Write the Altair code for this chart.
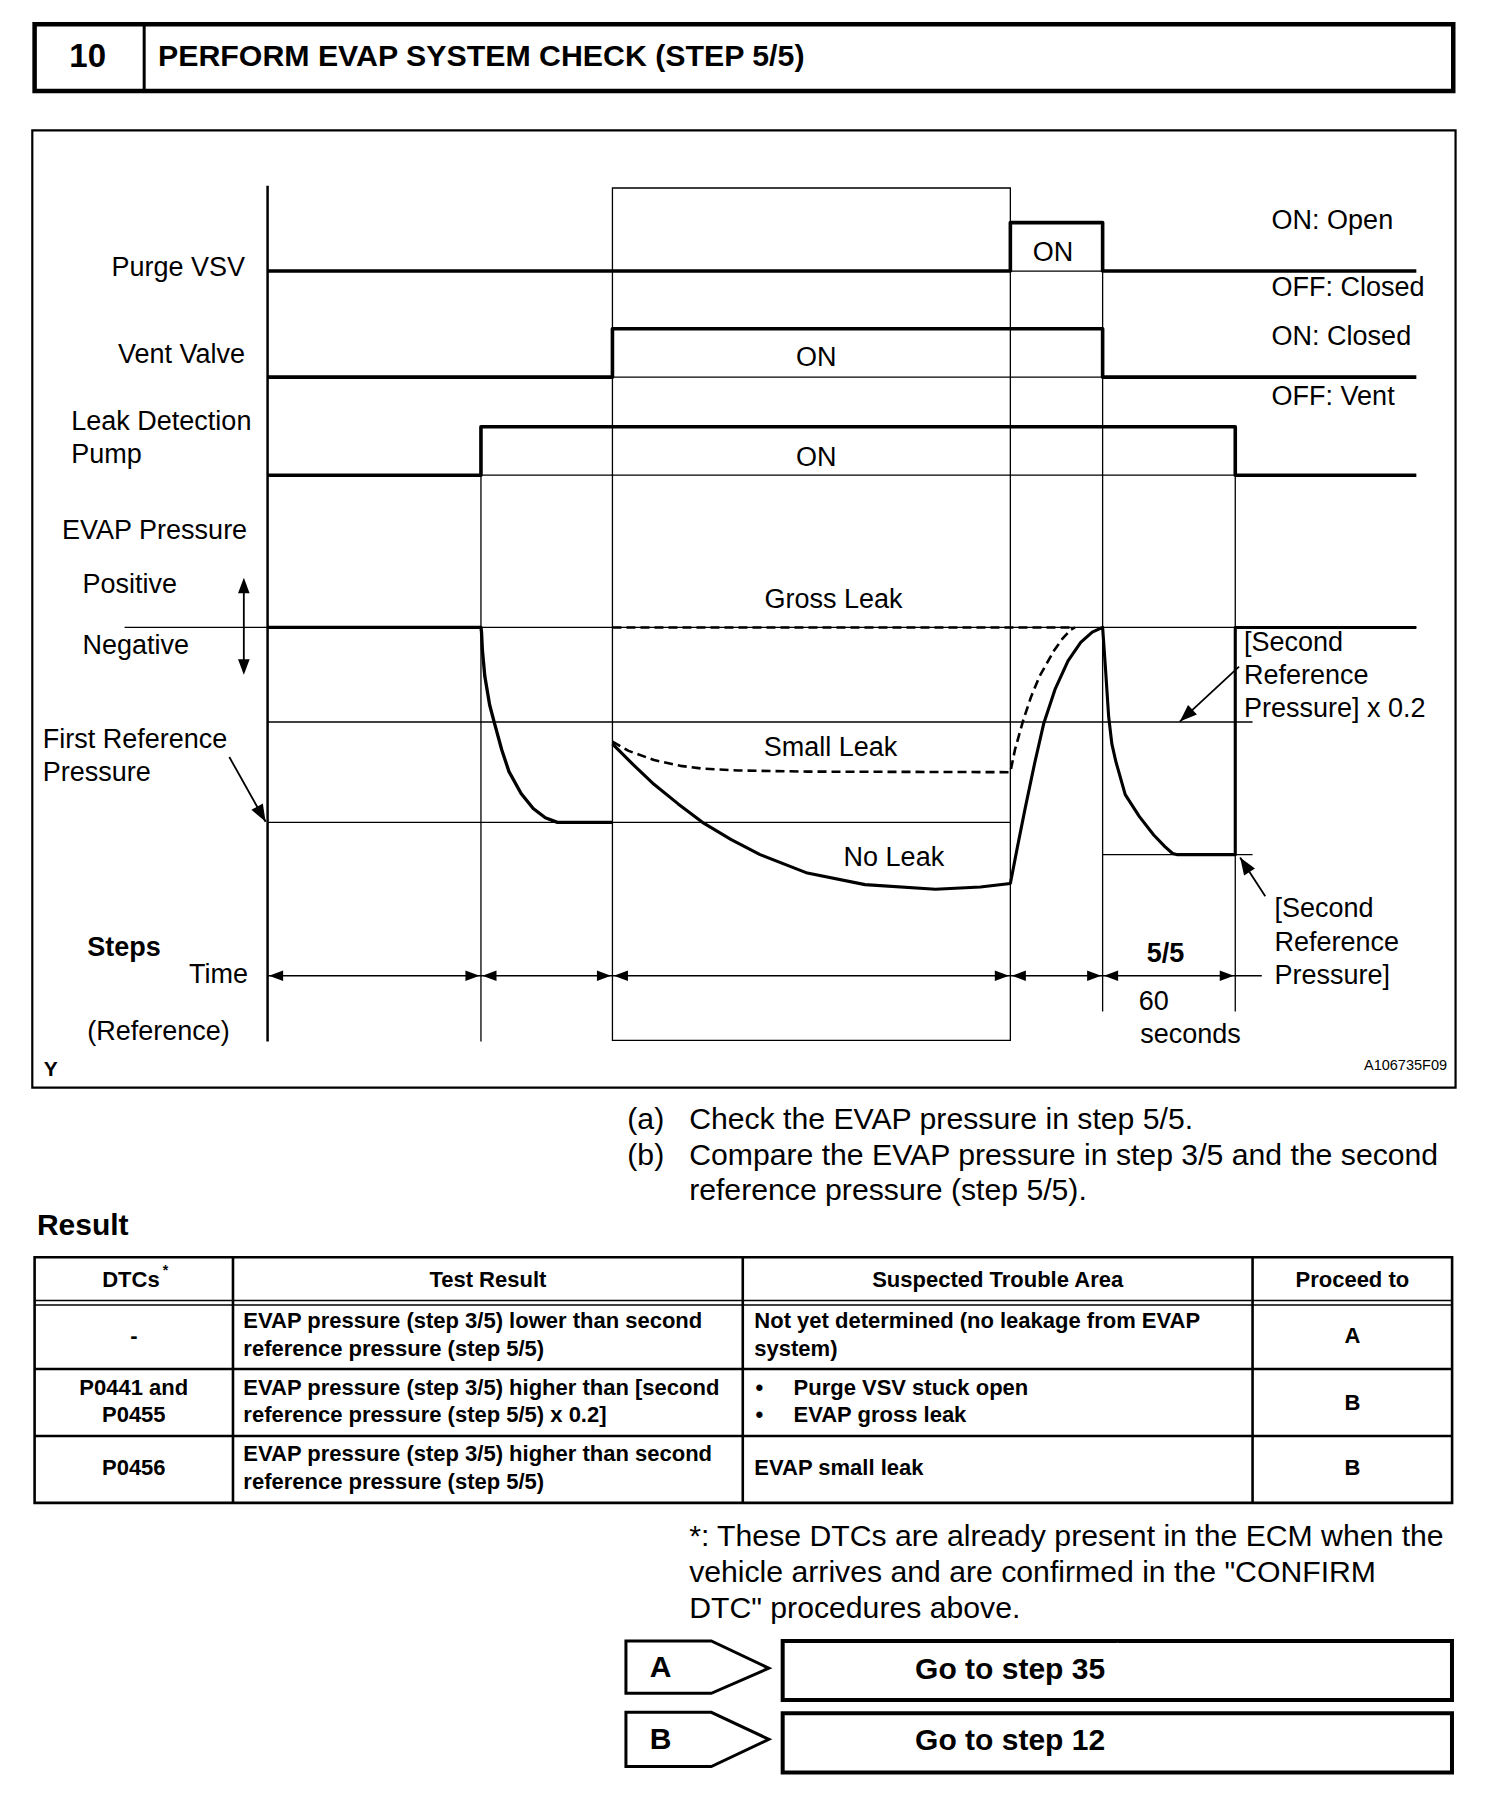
import math
import altair as alt
import pandas as pd

# ------------------------------------------------------------------
# Layout units = reference page pixels at 1304 px width (scaled to 1504)
# ------------------------------------------------------------------
S = 1504 / 1304
W, H = 1488, 1792
XDOM = [8 / S, 8 / S + W / S]
YDOM = [8 / S, 8 / S + H / S]
FONT = "Liberation Sans, Arial, Helvetica, sans-serif"

# ---- timing diagram values ----
T = [232, 417, 531, 876, 956, 1071, 1228]  # axis, pump on, step start, purge on, purge off, pump off, end
PURGE_LVL = [235, 193]   # off, on
VENT_LVL = [327, 285]
PUMP_LVL = [412, 370]
P_ATM, P_02, P_REF1, P_REF2 = 544, 626, 713, 741
TIME_ROW = 846

# pressure curves
DROP1_X = [417, 417.5, 418.2, 420.3, 424.5, 428.7, 435, 441.3, 451.8, 462.3, 472.8, 483.3, 531]
DROP1_Y = [544, 548, 563, 586, 611, 627, 650, 669, 688, 701, 709, 713, 713]
NOLEAK_X = [531, 549, 567, 588, 609, 634, 659, 700, 750, 811, 850, 876,
            882, 889, 897, 905, 915, 926, 937, 947, 956]
NOLEAK_Y = [645, 663, 680, 697, 713, 728, 741, 757, 767, 771, 769, 766,
            735, 700, 662, 627, 597, 573, 557, 548, 544]
DROP2_X = [958.5, 961.2, 964, 967.4, 975.6, 987.9, 1000.3, 1010, 1016.7, 1021, 1071]
DROP2_Y = [580, 621, 645, 660, 689, 708, 724, 734, 740, 741, 741]
SMALL_X = [531, 545, 567, 590, 610, 640, 700, 876, 880, 887, 894, 901.5, 913.9, 921, 928.3, 932]
SMALL_Y = [643, 651, 659, 664, 666.5, 668, 669, 669.5, 650, 625, 604, 586, 564, 554, 546, 544]
GROSS_X = [531, 928]

# ---- texts ----
LEFT_LABELS = ["Leak Detection", "Pump", "EVAP Pressure", "Positive", "Negative",
               "First Reference", "Pressure", "(Reference)",
               "ON: Open", "OFF: Closed", "ON: Closed", "OFF: Vent",
               "[Second", "Reference", "Pressure] x 0.2",
               "[Second", "Reference", "Pressure]"]
LEFT_POS = [(61.8, 365.5), (61.8, 394.4), (53.8, 460.6), (71.5, 507.6), (71.5, 560),
            (37, 641.9), (37, 670.1), (75.7, 894.9),
            (1102.5, 192), (1102.5, 250), (1102.5, 292), (1102.5, 344),
            (1078.5, 557.2), (1078.5, 586), (1078.5, 615),
            (1105, 788.4), (1105, 817.3), (1105, 846.2)]
RIGHT_LABELS = ["Purge VSV", "Vent Valve", "Time"]
RIGHT_POS = [(212.5, 232.6), (212.5, 307.7), (215, 845)]
CENTER_LABELS = ["ON", "ON", "ON", "Gross Leak", "Small Leak", "No Leak", "60", "seconds"]
CENTER_POS = [(913, 219.6), (707.6, 310.6), (707.6, 397.3), (722.6, 520.2), (720, 648.7),
              (775, 744), (1000.3, 868.6), (1032.2, 897.5)]

INSTR = ["(a)", "Check the EVAP pressure in step 5/5.", "(b)",
         "Compare the EVAP pressure in step 3/5 and the second", "reference pressure (step 5/5)."]
INSTR_POS = [(543.9, 971), (597.5, 971), (543.9, 1002.5), (597.5, 1002.5), (597.5, 1032.5)]
FOOT = ["*: These DTCs are already present in the ECM when the",
        "vehicle arrives and are confirmed in the \"CONFIRM",
        "DTC\" procedures above."]
FOOT_POS = [(597.5, 1332.3), (597.5, 1364), (597.5, 1395)]

TABLE_COLS = [30, 202, 644, 1086, 1259]
TABLE_ROWS = [1090, 1187, 1245, 1303]
HEADER_DOUBLE = [1127.5, 1131.5]
TBL_CENTER = ["DTCs", "Test Result", "Suspected Trouble Area", "Proceed to",
              "-", "A", "P0441 and", "P0455", "B", "P0456", "B"]
TBL_CENTER_POS = [(113.5, 1110), (423, 1110), (865, 1110), (1172.5, 1110),
                  (116, 1158), (1172.5, 1158), (116, 1203), (116, 1227), (1172.5, 1216),
                  (116, 1273), (1172.5, 1273)]
TBL_LEFT = ["EVAP pressure (step 3/5) lower than second", "reference pressure (step 5/5)",
            "Not yet determined (no leakage from EVAP", "system)",
            "EVAP pressure (step 3/5) higher than [second", "reference pressure (step 5/5) x 0.2]",
            "\u2022", "Purge VSV stuck open", "\u2022", "EVAP gross leak",
            "EVAP pressure (step 3/5) higher than second", "reference pressure (step 5/5)",
            "EVAP small leak"]
TBL_LEFT_POS = [(211, 1145), (211, 1170), (654, 1145), (654, 1170),
                (211, 1203), (211, 1227), (655, 1203), (688, 1203), (655, 1227), (688, 1227),
                (211, 1261), (211, 1285), (654, 1273)]

BUTTON_KEYS = ["A", "B"]
BUTTON_TEXT = ["Go to step 35", "Go to step 12"]
BUTTON_TOP = [1422.7, 1484.6]
BUTTON_MID = [1446.4, 1508]
BUTTON_BOT = [1468.1, 1531.7]
BOX_TOP = [1422.7, 1485.5]
BOX_BOT = [1473.9, 1536.9]

# ------------------------------------------------------------------
round_rows, miter_rows, dash_rows = [], [], []


def add(rows, pid, xs_, ys_, w):
    for i, (x, y) in enumerate(zip(xs_, ys_)):
        rows.append(dict(id=pid, seq=i, x=x, y=y, w=w))


def rect(x0, y0, x1, y1):
    m = (x0 + x1) / 2
    return [m, x1, x1, x0, x0, m], [y0, y0, y1, y1, y0, y0]


# frames
add(miter_rows, "hdr", *rect(30, 21, 1260, 79), 4.5)
add(miter_rows, "hdrdiv", [125, 125], [21, 79], 3)
add(miter_rows, "diag", *rect(28, 113, 1262, 943), 2.2)
add(miter_rows, "stepbox", *rect(T[2], 163, T[3], 902), 1.3)
add(miter_rows, "table", *rect(TABLE_COLS[0], TABLE_ROWS[0], TABLE_COLS[-1], TABLE_ROWS[-1]), 2.6)
for i, c in enumerate(TABLE_COLS[1:-1]):
    add(miter_rows, f"tc{i}", [c, c], [TABLE_ROWS[0], TABLE_ROWS[-1]], 2.6)
for i, r in enumerate(TABLE_ROWS[1:-1]):
    add(miter_rows, f"tr{i}", [TABLE_COLS[0], TABLE_COLS[-1]], [r, r], 2.4)
for i, r in enumerate(HEADER_DOUBLE):
    add(miter_rows, f"th{i}", [TABLE_COLS[0], TABLE_COLS[-1]], [r, r], 1.6)
for i in range(2):
    x0, xs_, xp = 542.7, 616.7, 666.6
    add(miter_rows, f"pent{i}", [x0, x0, xs_, xp, xs_, x0, x0],
        [BUTTON_MID[i], BUTTON_TOP[i], BUTTON_TOP[i], BUTTON_MID[i], BUTTON_BOT[i], BUTTON_BOT[i], BUTTON_MID[i]], 3)
    add(miter_rows, f"gobox{i}", *rect(678.6, BOX_TOP[i], 1258.9, BOX_BOT[i]), 4)

# thin guide lines
thin = 1.3
add(round_rows, "v417", [T[1], T[1]], [PUMP_LVL[0], 903], thin)
add(round_rows, "v956", [T[4], T[4]], [PURGE_LVL[0], 877], thin)
add(round_rows, "v1071", [T[5], T[5]], [PUMP_LVL[0], 877], thin)
add(round_rows, "hp", [T[3], T[4]], [PURGE_LVL[0]] * 2, thin)
add(round_rows, "hv", [T[2], T[4]], [VENT_LVL[0]] * 2, thin)
add(round_rows, "hpump", [T[1], T[5]], [PUMP_LVL[0]] * 2, thin)
add(round_rows, "hatm", [108, T[6]], [P_ATM] * 2, thin)
add(round_rows, "h02", [T[0], 1086], [P_02] * 2, thin)
add(round_rows, "href1", [T[0], T[3]], [P_REF1] * 2, thin)
add(round_rows, "href2", [T[4], 1086], [P_REF2] * 2, thin)
add(round_rows, "htime", [T[0], 1094], [TIME_ROW] * 2, thin)
add(round_rows, "axis", [T[0], T[0]], [161, 903], 2.5)

# waveforms
add(round_rows, "purge", [T[0], T[3], T[3], T[4], T[4], T[6]],
    [PURGE_LVL[0], PURGE_LVL[0], PURGE_LVL[1], PURGE_LVL[1], PURGE_LVL[0], PURGE_LVL[0]], 3.6)
add(round_rows, "vent", [T[0], T[2], T[2], T[4], T[4], T[6]],
    [VENT_LVL[0], VENT_LVL[0], VENT_LVL[1], VENT_LVL[1], VENT_LVL[0], VENT_LVL[0]], 3.6)
add(round_rows, "pump", [T[0], T[1], T[1], T[5], T[5], T[6]],
    [PUMP_LVL[0], PUMP_LVL[0], PUMP_LVL[1], PUMP_LVL[1], PUMP_LVL[0], PUMP_LVL[0]], 3.6)
add(round_rows, "press1", [T[0]] + DROP1_X, [P_ATM] + DROP1_Y, 3.3)
add(round_rows, "press2", NOLEAK_X + DROP2_X + [T[5], T[6]],
    NOLEAK_Y + DROP2_Y + [P_ATM, P_ATM], 3.1)

# leader arrows shafts
LEADERS = [((198.8, 656.3), (230.3, 712.5)),
           ((1074.3, 578), (1022.9, 625.6)),
           ((1097, 777), (1075.2, 743.4)),
           ((211.4, 506), (211.4, 580))]
for i, (a, b) in enumerate(LEADERS):
    add(round_rows, f"lead{i}", [a[0], b[0]], [a[1], b[1]], 1.8)

# dashed curves
add(dash_rows, "gross", GROSS_X, [P_ATM, P_ATM], 2.6)
add(dash_rows, "small", SMALL_X, SMALL_Y, 2.6)

# arrow heads: tip x, tip y, dir x, dir y, size
heads = []
for (a, b) in LEADERS[:3]:
    heads.append((b[0], b[1], b[0] - a[0], b[1] - a[1], 300))
heads.append((211.4, 501, 0, -1, 240))
heads.append((211.4, 585, 0, 1, 240))
for a, b in zip(T[:5], T[1:6]):
    heads.append((a + 1.2, TIME_ROW, -1, 0, 200))
    heads.append((b - 1.2, TIME_ROW, 1, 0, 200))
head_df = pd.DataFrame([dict(x=h[0], y=h[1], s=h[4],
                             a=(math.degrees(math.atan2(h[2], -h[3])) % 360)) for h in heads])

xs = alt.Scale(domain=XDOM, range=[0, W], nice=False, zero=False)
ys = alt.Scale(domain=YDOM, range=[0, H], nice=False, zero=False)
X = alt.X("x:Q", scale=xs, axis=None)
Y = alt.Y("y:Q", scale=ys, axis=None)


def line_layer(rows, join, dash=None):
    kw = dict(color="black", strokeJoin=join, strokeCap="butt", strokeMiterLimit=10)
    if dash:
        kw["strokeDash"] = dash
    return alt.Chart(pd.DataFrame(rows)).mark_line(**kw).encode(
        x=X, y=Y, detail="id:N", order="seq:Q",
        strokeWidth=alt.StrokeWidth("w:Q", scale=None))


def text_layer(labels, pos, size, weight="normal", align="left"):
    df = pd.DataFrame(dict(t=labels, x=[p[0] for p in pos], y=[p[1] for p in pos], s=[size] * len(labels)))
    return alt.Chart(df).mark_text(font=FONT, fontWeight=weight, align=align, baseline="middle",
                                   color="black").encode(
        x=X, y=Y, text="t:N", size=alt.Size("s:Q", scale=None))


layers = [
    line_layer(miter_rows, "miter"),
    line_layer(round_rows, "round"),
    line_layer(dash_rows, "round", dash=[9, 5]),
    alt.Chart(head_df).mark_point(shape="M0,0L0.75,2L-0.75,2Z", filled=True, color="black",
                                  opacity=1, strokeWidth=0).encode(
        x=X, y=Y, angle=alt.Angle("a:Q", scale=None), size=alt.Size("s:Q", scale=None)),
    # header
    text_layer(["10"], [(76, 49.5)], 33, "bold", "center"),
    text_layer(["PERFORM EVAP SYSTEM CHECK (STEP 5/5)"], [(137, 49.5)], 30.3, "bold"),
    # diagram labels
    text_layer(LEFT_LABELS, LEFT_POS, 27),
    text_layer(RIGHT_LABELS, RIGHT_POS, 27, align="right"),
    text_layer(CENTER_LABELS, CENTER_POS, 27, align="center"),
    text_layer(["Steps"], [(75.7, 821.7)], 27, "bold"),
    text_layer(["5/5"], [(1010.6, 827)], 27, "bold", "center"),
    text_layer(["Y"], [(38, 928)], 21, "bold"),
    text_layer(["A106735F09"], [(1254.6, 924)], 14.5, align="right"),
    # instructions
    text_layer(INSTR, INSTR_POS, 30.2),
    text_layer(["Result"], [(32, 1063)], 30, "bold"),
    # table
    text_layer(TBL_CENTER, TBL_CENTER_POS, 22, "bold", "center"),
    text_layer(["*"], [(141, 1102)], 14, "bold"),
    text_layer(TBL_LEFT, TBL_LEFT_POS, 22, "bold"),
    # footnote
    text_layer(FOOT, FOOT_POS, 30.2),
    # buttons
    text_layer(BUTTON_KEYS, [(572.7, BUTTON_MID[0]), (572.7, BUTTON_MID[1] + 0.5)], 30, "bold", "center"),
    text_layer(BUTTON_TEXT, [(875.8, 1448), (875.8, 1509.5)], 30, "bold", "center"),
]

chart = alt.layer(*layers).properties(
    width=W, height=H, padding=0,
    autosize=alt.AutoSizeParams(type="none"),
    background="white",
).configure_view(stroke=None)

chart.save("out.html", embed_options={"renderer": "svg", "actions": False})
